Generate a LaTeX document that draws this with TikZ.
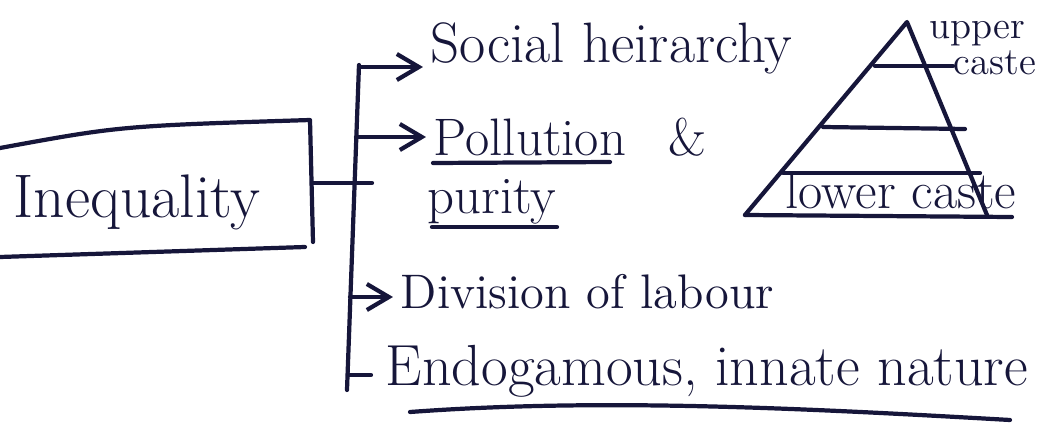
\documentclass[tikz,border=0pt]{standalone}
\usepackage{xcolor}
\usetikzlibrary{arrows.meta, positioning}
\definecolor{ink}{RGB}{22,22,58}

\begin{document}
\begin{tikzpicture}[
  x=0.01cm, y=-0.01cm,
  pen/.style={draw=ink, line width=1.2pt, line cap=round, line join=round},
  arr/.style={pen, -{Straight Barb[length=2.2mm, width=2.6mm]}},
  txt/.style={text=ink, inner sep=2pt, anchor=base west, font=\fontsize{15}{18}\selectfont},
  smalltxt/.style={txt, font=\fontsize{11}{13}\selectfont}
]
\useasboundingbox (0,0) rectangle (1038,430);

% texts
\node[txt, font=\fontsize{17.5}{20}\selectfont] (ineq) at (6,217) {Inequality};
\node[txt, font=\fontsize{16.2}{19}\selectfont] (social) at (423,62) {Social heirarchy};
\node[txt] (pollution) at (426,155) {Pollution};
\node[txt] (amp) at (661,155) {\&};
\node[txt] (purity) at (420,213) {purity};
\node[txt, font=\fontsize{13.8}{16}\selectfont] (division) at (393,308) {Division of labour};
\node[txt, font=\fontsize{16.5}{19}\selectfont] (endog) at (378,385) {Endogamous, innate nature};

% box round Inequality (open at the left)
\draw[pen] (0,148) .. controls (120,126) .. (310,120) -- (313,242);
\draw[pen] (0,257) -- (305,247);

% trunk and branches
\coordinate (ttop) at (359,65);
\coordinate (tbot) at (347,390);
\coordinate (b1) at (359,67);
\coordinate (b2) at (356,137);
\coordinate (boxr) at (312,183);
\coordinate (b3) at (372,183);
\coordinate (b4) at (350,297);
\coordinate (b5) at (348,375);
\draw[pen] (ttop) -- (tbot);
\draw[pen] (boxr) -- (b3);
\draw[arr] (b1) -- (b1 -| social.west);
\draw[arr] (b2) -- (b2 -| pollution.west);
\draw[arr] (b4) -- (b4 -| division.west);
\draw[pen] (b5) -- ([xshift=-2pt]b5 -| endog.west);

% underlines
\draw[pen] (433,163) -- (610,162);
\draw[pen] (432,227) -- (557,227);
\draw[pen] (410,412) .. controls (600,398) and (800,408) .. (1010,420);

% pyramid
\coordinate (apex) at (907,22);
\coordinate (bl) at (745,215);
\coordinate (br) at (987,215);
\coordinate (bend) at (1012,217);
\draw[pen] (bl) -- (apex) -- (br);
\draw[pen] (bl) -- (bend);
\draw[pen] (875,66) -- (953,66);
\draw[pen] (823,127) -- (965,129);
\draw[pen] (783,173) -- (980,173);
\node[smalltxt] (upper) at (922,38) {upper};
\node[smalltxt] (caste) at (946,74) {caste};
\node[txt] (lower) at (778,208) {lower caste};
\end{tikzpicture}
\end{document}
